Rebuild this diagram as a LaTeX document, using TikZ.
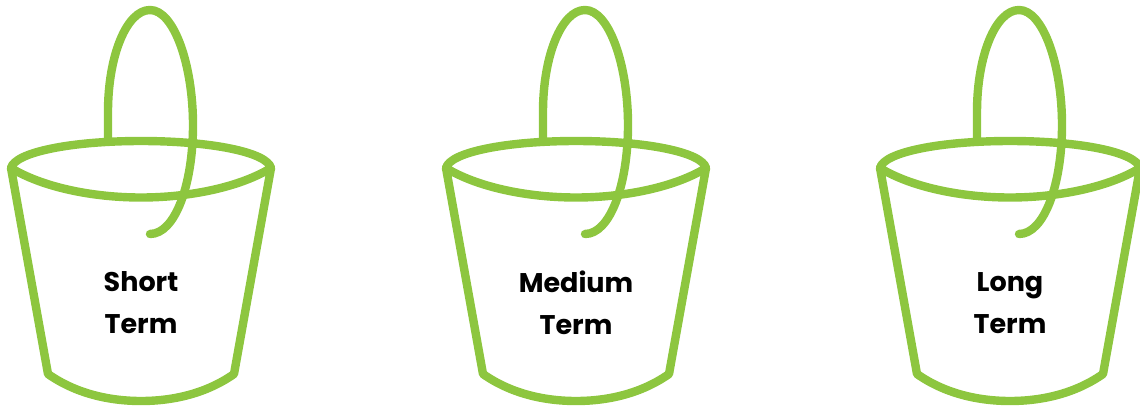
\documentclass[tikz,border=0pt]{standalone}
\usepackage{fontspec}
\setmainfont{Poppins}
\definecolor{bucketgreen}{HTML}{8DC63F}
\tikzset{
  x=1pt,y=-1pt,
  bucketline/.style={draw=bucketgreen,line width=8.4pt,line cap=round,line join=round},
  bucketlabel/.style={font=\fontsize{27}{42}\selectfont\bfseries,text=black,align=center,inner sep=0pt},
}
\newcommand{\bucketdraw}[3]{%
  \begin{scope}[shift={(#1,0)}]
    \draw[bucketline] (108,138) -- (108,112)
      .. controls (108,55) and (127,10) .. (150,10)
      .. controls (174,10) and (193,65) .. (193,125)
      .. controls (193,185) and (175,234) .. (150,234);
    \draw[bucketline] (11,168)
      .. controls (15,152) and (72,141) .. (141,141)
      .. controls (210,141) and (267,152) .. (271,168)
      .. controls (240,187) and (190,197.5) .. (141,197.5)
      .. controls (92,197.5) and (42,187) .. (11,168) -- cycle;
    \draw[bucketline] (11,168) -- (48,374)
      .. controls (75,393) and (108,401) .. (141,401)
      .. controls (174,401) and (207,393) .. (234,374) -- (271,168);
    \node[bucketlabel] (#2) at (141,303) {#3};
  \end{scope}}
\begin{document}
\begin{tikzpicture}
  \useasboundingbox (0,0) rectangle (1140,405);
  \clip (0,0) rectangle (1140,405);
  \bucketdraw{0}{short}{Short\\Term}
  \bucketdraw{435}{medium}{Medium\\Term}
  \bucketdraw{869}{long}{Long\\Term}
\end{tikzpicture}
\end{document}
